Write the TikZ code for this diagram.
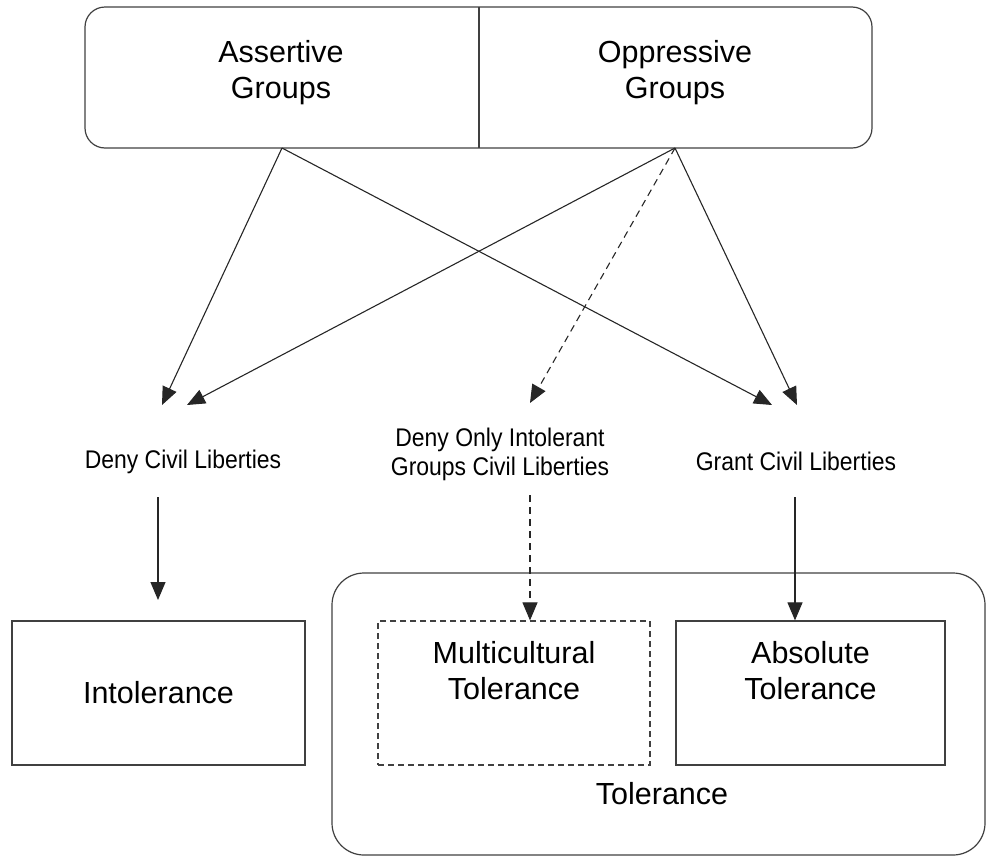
\documentclass[tikz,border=0pt]{standalone}
\usepackage{fontspec}
\setmainfont{Liberation Sans}
\newfontfamily\narrowfont{Liberation Sans}[FakeStretch=0.9]
\usetikzlibrary{arrows.meta}
\begin{document}
\begin{tikzpicture}[x=1pt,y=-1pt,
  line/.style={draw=black!85,line width=1.1pt},
  arr/.style={line,-{Triangle[length=18pt,width=15pt]}},
  dasharr/.style={arr,dash pattern=on 7pt off 5pt},
  bigtxt/.style={font=\fontsize{30.5}{36}\selectfont,align=center,inner sep=0pt},
  smalltxt/.style={font=\narrowfont\fontsize{25.5}{29}\selectfont,align=center,inner sep=0pt},
  boxnode/.style={draw=black!75,line width=1.2pt,minimum width=#1,minimum height=144pt,inner sep=0pt}
]
\useasboundingbox (0,0) rectangle (987,857);
% top group box
\draw[draw=black!75,line width=1.2pt,rounded corners=20pt] (85,7) rectangle (872,148);
\draw[draw=black!75,line width=1.2pt] (479,7) -- (479,148);
\node[bigtxt] (ass) at (281,73) {Assertive\\Groups};
\node[bigtxt] (opp) at (675,73) {Oppressive\\Groups};
\coordinate (as) at (282,148);
\coordinate (os) at (675,148);
% targets
\coordinate (d1) at (162,405);
\coordinate (d2) at (187,405);
\coordinate (m1) at (530,403);
\coordinate (g1) at (772,405);
\coordinate (g2) at (797,405);
\draw[arr] (as) -- (d1);
\draw[arr] (as) -- (g1);
\draw[arr] (os) -- (d2);
\draw[arr] (os) -- (g2);
\draw[dasharr] (os) -- (m1);
% labels
\node[smalltxt] (deny) at (183,462) {Deny Civil Liberties};
\node[smalltxt] (only) at (500,454) {Deny Only Intolerant\\Groups Civil Liberties};
\node[smalltxt] (grant) at (796,461) {Grant Civil Liberties};
% tolerance group
\draw[draw=black!75,line width=1.2pt,rounded corners=32pt] (332,573) rectangle (985,855);
\node[bigtxt] (tol) at (662,794) {Tolerance};
% boxes
\node[boxnode=293pt,bigtxt] (intol) at (158.5,693) {Intolerance};
\node[boxnode=272pt,dash pattern=on 6pt off 4pt] (multi) at (514,693) {};
\node[boxnode=269pt] (abs) at (810.5,693) {};
\node[bigtxt] (multitxt) at (514,671) {Multicultural\\Tolerance};
\node[bigtxt] (abstxt) at (810.5,671) {Absolute\\Tolerance};
% vertical arrows
\coordinate (it) at (158,600);
\draw[arr] (158,497) -- (it);
\draw[dasharr] (530,495) -- (multi.north -| 530,0);
\draw[arr] (795,497) -- (abs.north -| 795,0);
\end{tikzpicture}
\end{document}
